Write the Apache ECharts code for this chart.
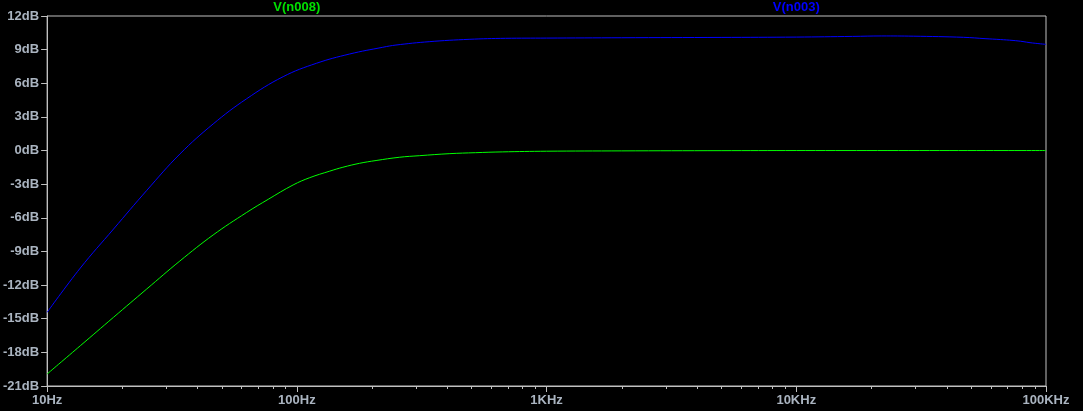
<!DOCTYPE html>
<html><head><meta charset="utf-8">
<script src="https://cdn.jsdelivr.net/npm/echarts@6/dist/echarts.min.js"></script>
<style>html,body{margin:0;padding:0;background:#000;}#c{width:1083px;height:411px;}</style>
</head><body><div id="c"></div>
<script>
// Series names
const seriesNames = ['V(n008)', 'V(n003)'];
// V(n003) (blue): frequency points (Hz) and magnitude (dB)
const blueFreq = [10, 13.58, 18.45, 25.05, 34.01, 46.22, 62.76, 88.15, 119.7, 162.7, 220.8, 249.5, 338.9, 489.6, 685, 1000, 2000, 5000, 10000, 16800, 22000, 29400, 46700, 57000, 65600, 73800, 80900, 86300, 100000];
const blueDb   = [-14.43, -10.48, -7.00, -3.56, -0.31, 2.37, 4.60, 6.59, 7.78, 8.61, 9.21, 9.41, 9.71, 9.92, 10.01, 10.03, 10.06, 10.09, 10.12, 10.18, 10.22, 10.2, 10.1, 9.98, 9.9, 9.82, 9.72, 9.62, 9.47];
// V(n008) (green)
const greenFreq = [10, 13.58, 18.45, 25.05, 34.01, 46.22, 62.76, 76.8, 96.6, 112.6, 135.3, 152.9, 178.2, 207.6, 257.3, 309.3, 407.3, 520, 664.5, 1000, 2000, 5000, 10000, 100000];
const greenDb   = [-19.93, -17.41, -14.87, -12.35, -9.85, -7.53, -5.54, -4.35, -3.07, -2.42, -1.84, -1.49, -1.14, -0.89, -0.60, -0.46, -0.28, -0.19, -0.12, -0.06, -0.03, -0.01, 0, 0];
// Axis ticks and labels
const xTickValues = [10, 100, 1000, 10000, 100000];
const xTickLabels = ['10Hz', '100Hz', '1KHz', '10KHz', '100KHz'];
const xMinorTicks = [20,30,40,50,60,70,80,90,200,300,400,500,600,700,800,900,2000,3000,4000,5000,6000,7000,8000,9000,20000,30000,40000,50000,60000,70000,80000,90000];
const seriesLabelFreq = [100, 10000];
const yMin = -21, yMax = 12, yStep = 3;

const axisGray = '#c0c0c0';
const labelColor = '#aab4c0';
const font = 'Liberation Sans, Arial, sans-serif';

const chart = echarts.init(document.getElementById('c'), null, {renderer: 'canvas'});
const pairs = (xs, ys) => xs.map((x, i) => [x, ys[i]]);

chart.setOption({
  backgroundColor: '#000',
  animation: false,
  grid: {left: 43, right: 37, top: 16, bottom: 25, show: true, borderColor: axisGray, borderWidth: 1, backgroundColor: '#000'},
  xAxis: {
    type: 'log', logBase: 10, min: 10, max: 100000,
    axisLine: {show: true, onZero: false, lineStyle: {color: axisGray, width: 1}},
    axisTick: {show: true, length: 6, lineStyle: {color: axisGray}},
    minorTick: {show: false},
    splitLine: {show: false},
    axisLabel: {
      color: labelColor, fontFamily: font, fontWeight: 'bold', fontSize: 13, margin: 8,
      formatter: v => { const i = xTickValues.findIndex(t => Math.abs(t - v) / t < 1e-6); return i >= 0 ? xTickLabels[i] : ''; }
    }
  },
  yAxis: {
    type: 'value', min: yMin, max: yMax, interval: yStep,
    axisLine: {show: true, onZero: false, lineStyle: {color: axisGray, width: 1}},
    axisTick: {show: true, length: 6, lineStyle: {color: axisGray}},
    splitLine: {show: false},
    axisLabel: {color: labelColor, fontFamily: font, fontWeight: 'bold', fontSize: 13, margin: 8, formatter: '{value}dB'}
  },
  series: [
    {name: seriesNames[0], type: 'line', data: pairs(greenFreq, greenDb), showSymbol: false, smooth: 0.4,
     lineStyle: {color: '#00ff00', width: 1}, itemStyle: {color: '#00ff00'}},
    {name: seriesNames[1], type: 'line', data: pairs(blueFreq, blueDb), showSymbol: false, smooth: 0.4,
     lineStyle: {color: '#0000ff', width: 1}, itemStyle: {color: '#0000ff'}},
    {type: 'custom', clip: false, silent: true, data: xMinorTicks.map(v => [v]),
     renderItem: (params, api) => {
       const p = api.coord([api.value(0), yMin]);
       const x = Math.round(p[0]) + 0.5, y = Math.round(p[1]);
       return {type: 'line', shape: {x1: x, y1: y, x2: x, y2: y + 3}, style: {stroke: axisGray, lineWidth: 1}};
     }},
    {type: 'custom', clip: false, silent: true, data: seriesLabelFreq.map((v, i) => [v, i]),
     renderItem: (params, api) => {
       const i = api.value(1);
       const p = api.coord([api.value(0), yMax]);
       return {type: 'text', x: p[0], y: 7, style: {text: seriesNames[i], fill: i === 0 ? '#00e000' : '#0000ff',
         font: 'bold 13px ' + font, textAlign: 'center', textVerticalAlign: 'middle'}};
     }}
  ]
});
</script></body></html>
